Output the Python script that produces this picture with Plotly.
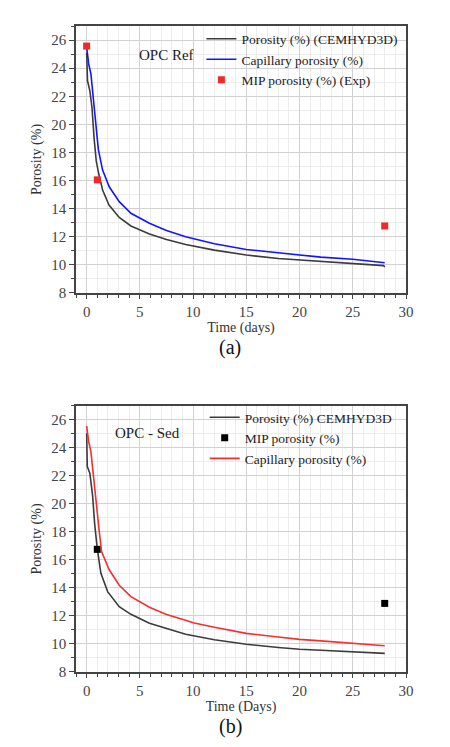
import plotly.graph_objects as go

# ---------- data: (a) OPC Ref ----------
t_a_cem = [0, 0.08, 0.3, 0.5, 0.7, 0.9, 1.13, 1.5, 2.1, 3.06, 4.16, 5.9, 7.5, 9.3, 12, 15, 18, 20, 22, 25, 27.9, 28]
v_a_cem = [25.1, 23.1, 22.4, 21.2, 19.0, 17.4, 16.5, 15.33, 14.26, 13.38, 12.77, 12.2, 11.8, 11.45, 11.05, 10.7, 10.45, 10.35, 10.25, 10.1, 9.95, 9.85]
t_a_cap = [0, 0.19, 0.4, 0.62, 0.87, 1.1, 1.5, 2.12, 3.06, 4.16, 5.9, 7.5, 9.3, 12, 15, 18, 20, 22, 25, 28]
v_a_cap = [25.5, 24.3, 23.6, 22.0, 20.3, 18.2, 16.75, 15.56, 14.5, 13.67, 12.96, 12.45, 12.0, 11.5, 11.1, 10.85, 10.7, 10.55, 10.4, 10.15]
t_a_mip = [0, 1, 28]
v_a_mip = [25.57, 16.05, 12.77]

# ---------- data: (b) OPC - Sed ----------
t_b_cem = [0, 0.06, 0.3, 0.56, 0.75, 1.0, 1.34, 1.97, 3.06, 4.16, 5.9, 7.5, 9.3, 12, 15, 18, 20, 22, 25, 28]
v_b_cem = [25.05, 22.67, 22.2, 20.6, 18.6, 16.8, 15.05, 13.74, 12.67, 12.12, 11.48, 11.1, 10.7, 10.3, 9.98, 9.75, 9.62, 9.55, 9.44, 9.33]
t_b_cap = [0, 0.19, 0.4, 0.62, 0.87, 1.19, 1.4, 2.12, 3.06, 4.16, 5.9, 7.5, 9.3, 10, 12, 15, 18, 20, 22, 25, 28]
v_b_cap = [25.57, 24.45, 23.74, 22.0, 20.3, 18.0, 16.6, 15.3, 14.2, 13.38, 12.62, 12.1, 11.7, 11.52, 11.2, 10.76, 10.5, 10.33, 10.22, 10.05, 9.88]
t_b_mip = [1, 28]
v_b_mip = [16.76, 12.9]

x_ticks = [0, 5, 10, 15, 20, 25, 30]
y_ticks = [8, 10, 12, 14, 16, 18, 20, 22, 24, 26]

FONT = "Liberation Serif"
GRAY = "#3c3c3c"
BLUE = "#1414ff"
RED = "#f23030"

fig = go.Figure()

# (a)
fig.add_trace(go.Scatter(x=t_a_cem, y=v_a_cem, mode="lines", name="Porosity (%) (CEMHYD3D)",
                         line=dict(color=GRAY, width=1.6), xaxis="x", yaxis="y", legend="legend"))
fig.add_trace(go.Scatter(x=t_a_cap, y=v_a_cap, mode="lines", name="Capillary porosity (%)",
                         line=dict(color=BLUE, width=1.6), xaxis="x", yaxis="y", legend="legend"))
fig.add_trace(go.Scatter(x=t_a_mip, y=v_a_mip, mode="markers",
                         name="MIP porosity (%) (Exp)",
                         marker=dict(symbol="square", size=7, color="#ee2a2a",
                                     line=dict(color="#f39a9a", width=0)),
                         xaxis="x", yaxis="y", legend="legend"))

# (b)
fig.add_trace(go.Scatter(x=t_b_cem, y=v_b_cem, mode="lines", name="Porosity (%) CEMHYD3D",
                         line=dict(color=GRAY, width=1.6), xaxis="x2", yaxis="y2", legend="legend2"))
fig.add_trace(go.Scatter(x=t_b_mip, y=v_b_mip, mode="markers",
                         name="MIP porosity (%)",
                         marker=dict(symbol="square", size=7, color="black"),
                         xaxis="x2", yaxis="y2", legend="legend2"))
fig.add_trace(go.Scatter(x=t_b_cap, y=v_b_cap, mode="lines", name="Capillary porosity (%)",
                         line=dict(color=RED, width=1.6), xaxis="x2", yaxis="y2", legend="legend2"))


def xax(title, anchor):
    return dict(
        range=[-1, 30], tickvals=x_ticks, ticks="outside", ticklen=4, tickwidth=1.2, tickcolor="#444",
        showline=True, linecolor="#444", linewidth=1.6, mirror=True,
        showgrid=True, gridcolor="#d2d2d2", gridwidth=1, zeroline=False,
        minor=dict(dtick=1, tick0=0, ticks="outside", ticklen=3, tickcolor="#444",
                   showgrid=True, gridcolor="#ededed", gridwidth=1),
        tickfont=dict(family=FONT, size=15, color="#444"),
        title=dict(text=title, font=dict(family=FONT, size=14, color="#333"), standoff=0),
        anchor=anchor, automargin=False,
    )


def yax(anchor, domain):
    return dict(
        range=[8, 27], tickvals=y_ticks, ticks="outside", ticklen=5, tickwidth=1.2, tickcolor="#444",
        showline=True, linecolor="#444", linewidth=1.6, mirror=True,
        showgrid=True, gridcolor="#d2d2d2", gridwidth=1, zeroline=False,
        minor=dict(dtick=1, tick0=0, ticks="outside", ticklen=3, tickcolor="#444",
                   showgrid=True, gridcolor="#ededed", gridwidth=1),
        tickfont=dict(family=FONT, size=15, color="#444"),
        title=dict(text="Porosity (%)", font=dict(family=FONT, size=14, color="#333"), standoff=6),
        anchor=anchor, domain=domain, automargin=False,
    )


legend_common = dict(bgcolor="rgba(0,0,0,0)", borderwidth=0,
                     font=dict(family=FONT, size=13.5, color="#222"),
                     xanchor="left", yanchor="top", tracegroupgap=0, itemwidth=30)

fig.update_layout(
    width=450, height=747,
    margin=dict(l=76, r=44, t=26, b=75, autoexpand=False),
    paper_bgcolor="white", plot_bgcolor="white",
    xaxis=xax("Time (days)", "y"),
    yaxis=yax("x", [0.5867, 1.0]),
    xaxis2=xax("Time (Days)", "y2"),
    yaxis2=yax("x2", [0.0, 0.4118]),
    legend=dict(x=0.38, y=1.004, **legend_common),
    legend2=dict(x=0.39, y=0.418, **legend_common),
    annotations=[
        dict(text="OPC Ref", xref="x domain", yref="y domain", x=0.273, y=0.89,
             xanchor="center", yanchor="middle",
             showarrow=False, font=dict(family=FONT, size=15, color="#222")),
        dict(text="OPC - Sed", xref="x2 domain", yref="y2 domain", x=0.218, y=0.90,
             xanchor="center", yanchor="middle",
             showarrow=False, font=dict(family=FONT, size=15, color="#222")),
        dict(text="(a)", xref="paper", yref="paper", x=0.467, y=0.503,
             xanchor="center", yanchor="middle",
             showarrow=False, font=dict(family=FONT, size=20, color="#111")),
        dict(text="(b)", xref="paper", yref="paper", x=0.467, y=-0.085,
             xanchor="center", yanchor="middle",
             showarrow=False, font=dict(family=FONT, size=20, color="#111")),
    ],
)

fig.write_html("out.html")
